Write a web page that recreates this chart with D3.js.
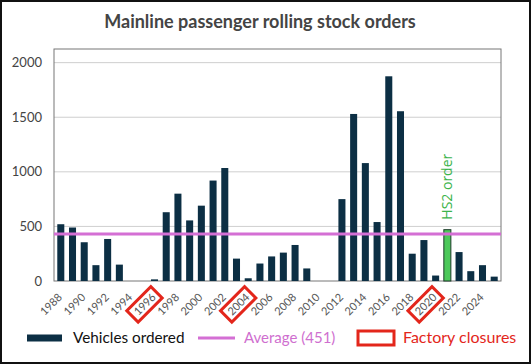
<!DOCTYPE html>
<html><head><meta charset="utf-8">
<script src="https://cdn.jsdelivr.net/npm/d3@7"></script>
<style>
html,body{margin:0;padding:0;background:#fff;}
svg{display:block;}
</style></head>
<body>
<script>
const years = d3.range(1988, 2026);
const orders = [520,490,355,145,385,150,0,0,15,630,800,555,690,920,1035,205,25,160,225,260,330,115,0,0,750,1530,1080,540,1875,1555,250,375,50,470,265,90,145,40];
const highlightYear = 2021;
const highlightLabel = "HS2 order";
const closureYears = [1996, 2004, 2020];
const averageValue = 430;
const averageLabel = "Average (451)";
const yTicks = [0, 500, 1000, 1500, 2000];
const xTickYears = d3.range(1988, 2026, 2);
const title = "Mainline passenger rolling stock orders";
const legendLabels = ["Vehicles ordered", averageLabel, "Factory closures"];

const W = 531, H = 364;
const m = {left: 54, right: 30, top: 49, bottom: 83};
const svg = d3.select("body").append("svg").attr("width", W).attr("height", H);
const font = "Lato, 'Open Sans', sans-serif";

// outer frame
svg.append("rect").attr("x",1).attr("y",1).attr("width",W-2).attr("height",H-2)
  .attr("fill","#fff").attr("stroke","#111").attr("stroke-width",2);

const x = d3.scaleBand().domain(years).range([m.left, W - m.right]).paddingInner(0.4).paddingOuter(0.28);
const y = d3.scaleLinear().domain([0, 2125]).range([H - m.bottom, m.top]);

// title
svg.append("text").attr("x", 260).attr("y", 28).attr("text-anchor","middle")
  .attr("font-family", font).attr("font-weight", 700).attr("font-size", 18)
  .attr("fill","#444").text(title);

// grid
svg.append("g").selectAll("line").data(yTicks.filter(d=>d>0)).join("line")
  .attr("x1", m.left).attr("x2", W - m.right).attr("y1", d=>y(d)).attr("y2", d=>y(d))
  .attr("stroke","#cfcfcf").attr("stroke-width",1);

// plot frame
svg.append("rect").attr("x", m.left).attr("y", m.top).attr("width", W - m.right - m.left)
  .attr("height", H - m.bottom - m.top).attr("fill","none").attr("stroke","#777").attr("stroke-width",1);

// y axis
const yAxis = svg.append("g").attr("transform", `translate(${m.left},0)`)
  .call(d3.axisLeft(y).tickValues(yTicks).tickFormat(d3.format("d")).tickSize(0).tickPadding(12));
yAxis.select(".domain").remove();
yAxis.selectAll("text").attr("font-family", font).attr("font-size", 13).attr("fill","#444");

// bars
svg.append("g").selectAll("rect").data(years.map((yr,i)=>({yr, v: orders[i]}))).join("rect")
  .attr("x", d=>x(d.yr)).attr("width", x.bandwidth())
  .attr("y", d=>y(d.v)).attr("height", d=>y(0)-y(d.v))
  .attr("fill", d=> d.yr===highlightYear ? "#4cc95a" : "#0c2f44")
  .attr("stroke", d=> d.yr===highlightYear ? "#1d3a2a" : "none")
  .attr("stroke-width", 1);

// average line
svg.append("line").attr("x1", m.left).attr("x2", W - m.right)
  .attr("y1", y(averageValue)).attr("y2", y(averageValue))
  .attr("stroke","#d46fd4").attr("stroke-width",3);

// HS2 label
const hx = x(highlightYear) + x.bandwidth()/2;
const hv = orders[years.indexOf(highlightYear)];
svg.append("text").attr("transform", `translate(${hx+5},${y(hv)-10}) rotate(-90)`)
  .attr("font-family","'Open Sans', sans-serif").attr("font-size",14).attr("fill","#3cb44b")
  .text(highlightLabel);

// x axis labels
const lx = 2, lyOff = 17;
const xg = svg.append("g").attr("transform", `translate(0,${y(0)})`)
  .call(d3.axisBottom(x).tickValues(xTickYears).tickSize(0).tickPadding(0));
xg.select(".domain").remove();
xg.selectAll("text").attr("font-family", font).attr("font-size", 11).attr("fill","#555")
  .attr("text-anchor","end").attr("dy", 0)
  .attr("transform", `translate(${lx},${lyOff}) rotate(-45)`);

// closure boxes
closureYears.forEach(cy=>{
  const cx = x(cy) + x.bandwidth()/2;
  svg.append("rect")
    .attr("transform", `translate(${cx+lx},${y(0)+lyOff}) rotate(-45)`)
    .attr("x", -30).attr("y", -12).attr("width", 34).attr("height", 16)
    .attr("fill","none").attr("stroke","#e3261b").attr("stroke-width",3);
});

// legend
const ly = 338;
svg.append("rect").attr("x",27).attr("y",ly-3.5).attr("width",35).attr("height",7).attr("fill","#0c2f44");
svg.append("text").attr("x",73).attr("y",ly+5).attr("font-family",font).attr("font-size",15.3)
  .attr("fill","#111").text(legendLabels[0]);
svg.append("line").attr("x1",198).attr("x2",235).attr("y1",ly).attr("y2",ly)
  .attr("stroke","#d46fd4").attr("stroke-width",3);
svg.append("text").attr("x",244).attr("y",ly+5).attr("font-family",font).attr("font-size",15)
  .attr("fill","#cf6fcf").text(legendLabels[1]);
svg.append("rect").attr("x",358).attr("y",ly-7).attr("width",36).attr("height",14)
  .attr("fill","none").attr("stroke","#e3261b").attr("stroke-width",3);
svg.append("text").attr("x",403).attr("y",ly+5).attr("font-family",font).attr("font-size",16)
  .attr("fill","#e3261b").text(legendLabels[2]);
</script>
</body></html>
